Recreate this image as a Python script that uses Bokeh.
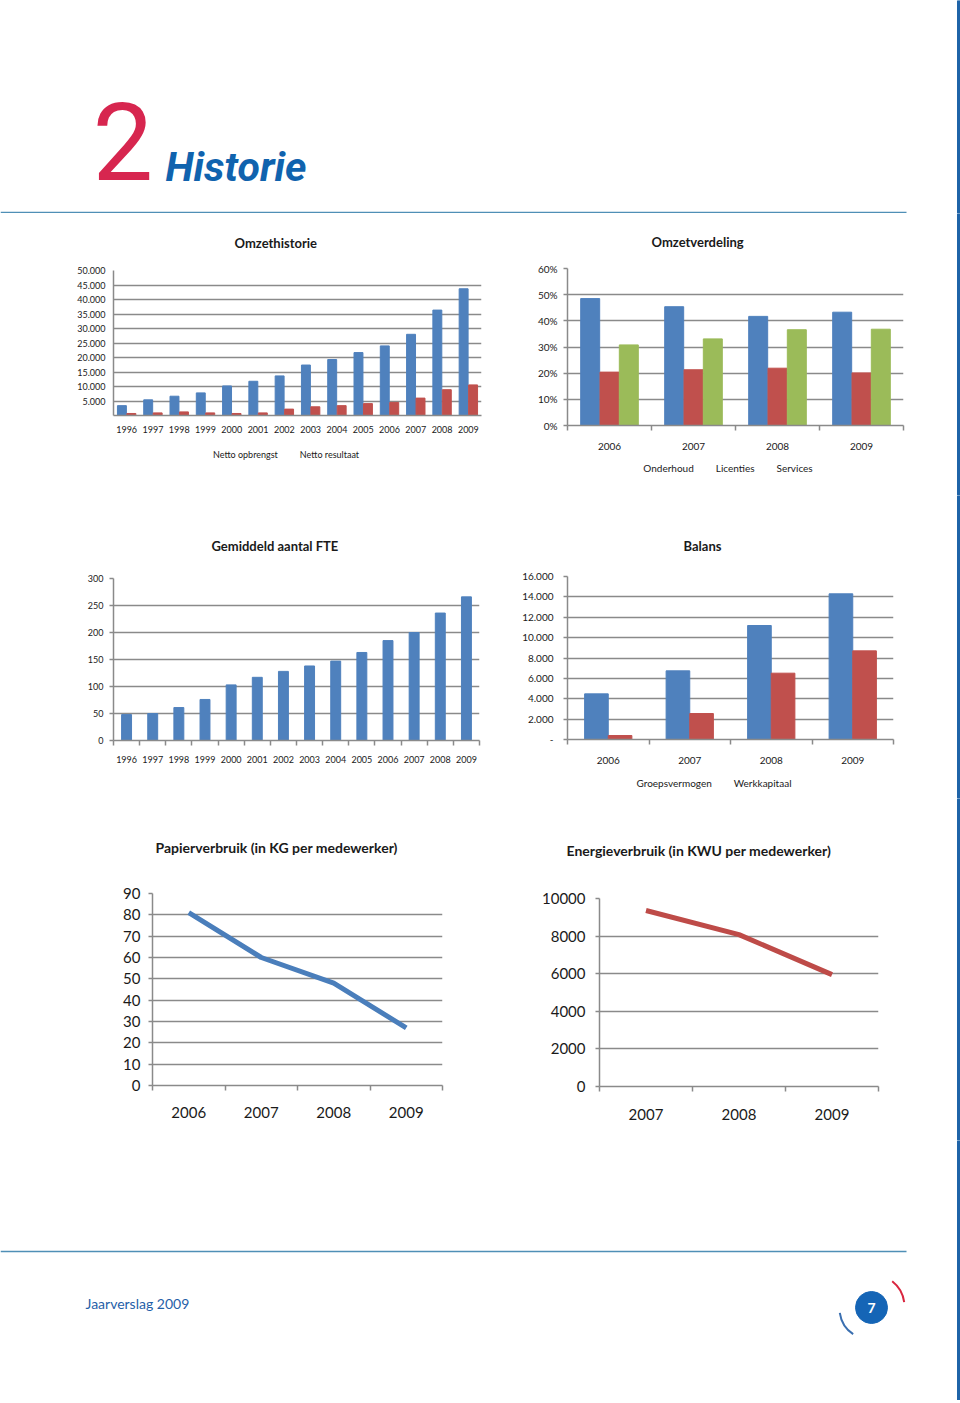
import numpy as np
from bokeh.plotting import figure
from bokeh.models import Range1d, FixedTicker, Legend, LegendItem
from bokeh.layouts import column, row
from bokeh.embed import file_html
from bokeh.resources import INLINE
from bokeh.core.properties import value

FONT = "Lato"
BLUE = "#4F81BD"
RED = "#C0504D"
GREEN = "#9BBB59"
LINE_BLUE = "#4A7EBB"
LINE_RED = "#BE4B48"
GRID = "#8a8a8a"
TXT = "#1a1a1a"
EDGE = "#1F64A8"

# ---------------- data ----------------
omzet_years = ["1996", "1997", "1998", "1999", "2000", "2001", "2002",
               "2003", "2004", "2005", "2006", "2007", "2008", "2009"]
netto_opbrengst = [3400, 5400, 6650, 7800, 10200, 11800, 13650,
                   17400, 19300, 21700, 24000, 28000, 36350, 43700]
netto_resultaat = [700, 900, 1250, 900, 700, 900, 2200,
                   3000, 3400, 4100, 4500, 6000, 8900, 10550]
omzet_yticks = [5000, 10000, 15000, 20000, 25000, 30000, 35000, 40000, 45000, 50000]
omzet_ylabels = ["5.000", "10.000", "15.000", "20.000", "25.000",
                 "30.000", "35.000", "40.000", "45.000", "50.000"]

verdeling_years = ["2006", "2007", "2008", "2009"]
onderhoud = [48.5, 45.4, 41.7, 43.3]
licenties = [20.4, 21.3, 21.9, 20.1]
services = [30.8, 33.1, 36.6, 36.8]
verdeling_yticks = [0, 10, 20, 30, 40, 50, 60]
verdeling_ylabels = ["0%", "10%", "20%", "30%", "40%", "50%", "60%"]

fte_years = ["1996", "1997", "1998", "1999", "2000", "2001", "2002",
             "2003", "2004", "2005", "2006", "2007", "2008", "2009"]
fte = [48, 50, 61, 76, 103, 117, 128, 138, 147, 163, 185, 200, 236, 266]
fte_yticks = [0, 50, 100, 150, 200, 250, 300]
fte_ylabels = ["0", "50", "100", "150", "200", "250", "300"]

balans_years = ["2006", "2007", "2008", "2009"]
groepsvermogen = [4480, 6740, 11190, 14300]
werkkapitaal = [390, 2550, 6510, 8700]
balans_yticks = [0, 2000, 4000, 6000, 8000, 10000, 12000, 14000, 16000]
balans_ylabels = ["-", "2.000", "4.000", "6.000", "8.000",
                  "10.000", "12.000", "14.000", "16.000"]

papier_years = ["2006", "2007", "2008", "2009"]
papier = [81, 60, 48, 27]
papier_yticks = [0, 10, 20, 30, 40, 50, 60, 70, 80, 90]
papier_ylabels = ["0", "10", "20", "30", "40", "50", "60", "70", "80", "90"]

energie_years = ["2007", "2008", "2009"]
energie = [9360, 8080, 5950]
energie_yticks = [0, 2000, 4000, 6000, 8000, 10000]
energie_ylabels = ["0", "2000", "4000", "6000", "8000", "10000"]


def no_align(p):
    # keep every figure's frame where its own borders put it
    try:
        p.frame_align = False
    except Exception:
        pass
    return p


def make_chart(title, box, frame, title_left, title_standoff, ymax, yticks, ylabels, cats,
               tick_size, ytick_out, ylabel_standoff, xlabel_standoff, xminor=True,
               title_size="13px"):
    fx, fy, w, h = box
    L, R, T, B = frame
    n = len(cats)
    p = figure(width=w, height=h, output_backend="svg", toolbar_location=None,
               x_range=Range1d(-0.5, n - 0.5), y_range=Range1d(0, ymax),
               min_border_left=L - fx, min_border_right=fx + w - R,
               min_border_top=T - fy, min_border_bottom=fy + h - B, title=title)
    no_align(p)
    p.outline_line_color = None
    p.title.text_font = FONT
    p.title.text_font_size = title_size
    p.title.text_font_style = "bold"
    p.title.text_color = TXT
    p.title.align = "left"
    p.title.offset = title_left - L
    p.title.standoff = title_standoff

    yt = FixedTicker(ticks=yticks)
    p.yaxis.ticker = yt
    p.yaxis.major_label_overrides = dict(zip(yticks, ylabels))
    p.yaxis.major_label_text_font = FONT
    p.yaxis.major_label_text_font_size = tick_size
    p.yaxis.major_label_text_color = TXT
    p.yaxis.axis_line_color = GRID
    p.yaxis.axis_line_width = 1.5
    p.yaxis.major_tick_line_color = GRID
    p.yaxis.major_tick_line_width = 1.5
    p.yaxis.minor_tick_line_color = None
    p.yaxis.major_tick_out = ytick_out
    p.yaxis.major_tick_in = 0
    p.yaxis.minor_tick_out = 0
    p.yaxis.minor_tick_in = 0
    p.yaxis.major_label_standoff = ylabel_standoff

    minors = [i - 0.5 for i in range(n + 1)] if xminor else []
    xt = FixedTicker(ticks=list(range(n)), minor_ticks=minors)
    p.xaxis.ticker = xt
    p.xaxis.major_label_overrides = {i: c for i, c in enumerate(cats)}
    p.xaxis.major_label_text_font = FONT
    p.xaxis.major_label_text_font_size = tick_size
    p.xaxis.major_label_text_color = TXT
    p.xaxis.axis_line_color = GRID
    p.xaxis.axis_line_width = 1.5
    p.xaxis.major_tick_line_color = None
    p.xaxis.minor_tick_line_color = GRID if xminor else None
    p.xaxis.minor_tick_line_width = 1.5
    p.xaxis.major_tick_out = 0
    p.xaxis.major_tick_in = 0
    p.xaxis.minor_tick_out = 5 if xminor else 0
    p.xaxis.minor_tick_in = 0
    p.xaxis.major_label_standoff = xlabel_standoff

    p.xgrid.grid_line_color = None
    p.ygrid.ticker = yt
    p.ygrid.grid_line_color = GRID
    p.ygrid.grid_line_width = 1.5
    return p


def legend_fig(box, cx, items, size, margin):
    # a thin strip under a chart that holds its legend, centred on cx
    fx, fy, w, h = box
    lb = max(0, 2 * (cx - fx) - w)
    rb = max(0, w - 2 * (cx - fx))
    f = figure(width=w, height=h, output_backend="svg", toolbar_location=None,
               x_range=Range1d(0, 1), y_range=Range1d(0, 1),
               x_axis_type=None, y_axis_type=None,
               min_border_left=lb, min_border_right=rb,
               min_border_top=0, min_border_bottom=0)
    no_align(f)
    f.outline_line_color = None
    f.grid.grid_line_color = None
    its = []
    for label, color in items:
        r = f.vbar(x=[], top=[], width=0.5, color=color)
        its.append(LegendItem(label=label, renderers=[r]))
    f.add_layout(Legend(items=its, orientation="horizontal", location="top_center",
                        glyph_width=7, glyph_height=7, label_standoff=3, spacing=12,
                        padding=2, margin=margin, border_line_color=None,
                        background_fill_alpha=0, label_text_font=FONT,
                        label_text_font_size=size, label_text_color=TXT))
    return f


def edge_strip(h):
    s = figure(width=8, height=h, output_backend="svg", toolbar_location=None,
               x_range=Range1d(0, 8), y_range=Range1d(0, 1),
               x_axis_type=None, y_axis_type=None, min_border=0)
    no_align(s)
    s.outline_line_color = None
    s.grid.grid_line_color = None
    s.quad(left=[5], right=[8], bottom=[0], top=[1], color=EDGE)
    return s


# ---------------- header (page y 0..213) ----------------
hdr = figure(width=952, height=213, output_backend="svg", toolbar_location=None,
             x_range=Range1d(0, 952), y_range=Range1d(0, 213),
             x_axis_type=None, y_axis_type=None, min_border=0)
no_align(hdr)
hdr.outline_line_color = None
hdr.grid.grid_line_color = None
hdr.text(x=[92], y=[72], text=["2"], text_font=value("Roboto"),
         text_font_size="108px", text_color="#D7264F", text_baseline="middle")
hdr.text(x=[165], y=[47], text=["Historie"], text_font=value("Roboto"),
         text_font_style="bold italic", text_font_size="41px", text_color="#1063AE",
         text_baseline="middle")
hdr.line(x=[0, 906], y=[1, 1], line_color="#4F8FB6", line_width=1.5)

# ---------------- row 1 (page y 213..495) ----------------
n1 = len(omzet_years)
x1 = np.arange(n1)
tl = make_chart("Omzethistorie", (0, 213, 505, 232), (113, 481, 270, 415), 234, 39,
                50000, omzet_yticks, omzet_ylabels, omzet_years, "9px", 0, 8, 10,
                xminor=False)
tl.vbar(x=x1 - 0.18, top=netto_opbrengst, width=0.34, color=BLUE)
tl.vbar(x=x1 + 0.18, top=netto_resultaat, width=0.34, color=RED)
tl_leg = legend_fig((0, 445, 505, 50), 281,
                    [("Netto opbrengst", BLUE), ("Netto resultaat", RED)], "9px", 4)

n2 = len(verdeling_years)
x2 = np.arange(n2)
tr = make_chart("Omzetverdeling", (505, 213, 447, 242), (567, 903, 268, 425), 651, 37,
                60, verdeling_yticks, verdeling_ylabels, verdeling_years, "10px", 4, 6, 12)
tr.vbar(x=x2 - 0.23, top=onderhoud, width=0.226, color=BLUE)
tr.vbar(x=x2, top=licenties, width=0.226, color=RED)
tr.vbar(x=x2 + 0.23, top=services, width=0.226, color=GREEN)
tr_leg = legend_fig((505, 455, 447, 40), 723,
                    [("Onderhoud", BLUE), ("Licenties", RED), ("Services", GREEN)],
                    "10px", 7)

# ---------------- row 2 (page y 495..798) ----------------
n3 = len(fte_years)
x3 = np.arange(n3)
ml = make_chart("Gemiddeld aantal FTE", (0, 495, 505, 303), (113, 479, 578, 740), 211, 50,
                300, fte_yticks, fte_ylabels, fte_years, "9px", 4, 6, 10)
ml.vbar(x=x3, top=fte, width=0.38, color=BLUE)

n4 = len(balans_years)
x4 = np.arange(n4)
mr = make_chart("Balans", (505, 495, 447, 275), (567, 893, 576, 739), 683, 46,
                16000, balans_yticks, balans_ylabels, balans_years, "10px", 4, 10, 12)
mr.vbar(x=x4 - 0.145, top=groepsvermogen, width=0.29, color=BLUE)
mr.vbar(x=x4 + 0.145, top=werkkapitaal, width=0.29, color=RED)
mr_leg = legend_fig((505, 770, 447, 28), 709,
                    [("Groepsvermogen", BLUE), ("Werkkapitaal", RED)], "10px", 7)

# ---------------- row 3 (page y 798..1140) ----------------
n5 = len(papier_years)
bl = make_chart("Papierverbruik (in KG per medewerker)", (0, 798, 505, 342),
                (152, 442, 893, 1085), 155, 76, 90, papier_yticks, papier_ylabels,
                papier_years, "15px", 4, 8, 16, title_size="14px")
bl.line(x=np.arange(n5), y=papier, line_color=LINE_BLUE, line_width=5, line_join="round")

n6 = len(energie_years)
br = make_chart("Energieverbruik (in KWU per medewerker)", (505, 798, 447, 342),
                (599, 878, 898, 1086), 566, 80, 10000, energie_yticks, energie_ylabels,
                energie_years, "15px", 4, 10, 17, title_size="14px")
br.line(x=np.arange(n6), y=energie, line_color=LINE_RED, line_width=5, line_join="round")

# ---------------- footer (page y 1140..1400) ----------------
ftr = figure(width=952, height=260, output_backend="svg", toolbar_location=None,
             x_range=Range1d(0, 952), y_range=Range1d(0, 260),
             x_axis_type=None, y_axis_type=None, min_border=0)
no_align(ftr)
ftr.outline_line_color = None
ftr.grid.grid_line_color = None
ftr.line(x=[0, 906], y=[149, 149], line_color="#4F8FB6", line_width=1.5)
ftr.text(x=[85], y=[97], text=["Jaarverslag 2009"], text_font=value(FONT),
         text_font_size="14px", text_color="#1F5FA8", text_baseline="middle")
ftr.arc(x=[872], y=[94], radius=32, start_angle=np.radians(8), end_angle=np.radians(52),
        line_color="#D9263F", line_width=2)
ftr.arc(x=[870], y=[92], radius=31, start_angle=np.radians(188), end_angle=np.radians(236),
        line_color="#3A6FB0", line_width=2)
ftr.scatter(x=[871], y=[93], marker="circle", size=32, fill_color="#1565B6",
            line_color="#1565B6")
ftr.text(x=[871], y=[93], text=["7"], text_font=value(FONT), text_font_style="bold",
         text_font_size="14px", text_color="white", text_align="center",
         text_baseline="middle")

page = column(row(hdr, edge_strip(213)),
              row(column(tl, tl_leg), column(tr, tr_leg), edge_strip(282)),
              row(ml, column(mr, mr_leg), edge_strip(303)),
              row(bl, br, edge_strip(342)),
              row(ftr, edge_strip(260)))

open("out.html", "w").write(file_html(page, INLINE))
